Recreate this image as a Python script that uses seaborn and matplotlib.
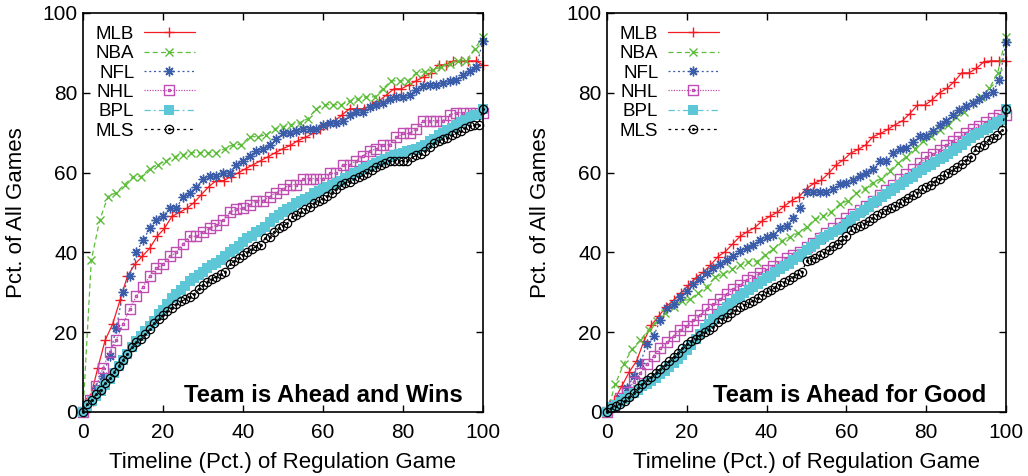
import numpy as np
import pandas as pd
import matplotlib
matplotlib.use("Agg")
import matplotlib.pyplot as plt
import seaborn as sns
from matplotlib.path import Path

# ---------------- data (percent of all games) ----------------
leagues = ["MLB", "NBA", "NFL", "NHL", "BPL", "MLS"]
panel_titles = ["Team is Ahead and Wins", "Team is Ahead for Good"]
x_label = "Timeline (Pct.) of Regulation Game"
y_label = "Pct. of All Games"
tick_values = [0, 20, 40, 60, 80, 100]

# Panel 1: Team is Ahead and Wins
wins_MLB = [0, 3.5, 11, 18, 22, 28, 34, 37, 39, 41, 44, 46, 49, 50, 51, 52.5, 54.5, 56.5, 58, 58,
            59, 60, 61, 62, 63, 64, 65, 66, 66.8, 68, 68.8, 69.8, 71, 72, 73, 74.5, 76, 76, 76, 77,
            78, 79.5, 81, 81, 82, 83, 84, 85, 87, 87, 88, 88, 88, 88, 87]
wins_NBA = [0, 38, 48, 54, 55, 57, 59, 59, 61, 62, 63, 64, 64.5, 65, 65, 65, 65, 66, 67, 67,
            69, 69, 69.5, 71, 71.5, 72, 72.5, 73.5, 76, 77, 77, 77, 78, 78.5, 79, 79, 81, 83, 83, 83,
            85, 85.3, 85.7, 86.5, 87.3, 88, 88, 91, 94]
wins_NFL = [0, 2.5, 6, 9, 14, 21, 30, 34, 40, 43, 46, 48, 49, 51, 51, 54, 55, 56.3, 58.3, 59.2,
            59.2, 60, 60, 62, 63, 64.2, 65.5, 66, 67, 68.5, 70, 70, 70.5, 71, 71, 71, 72, 72.4, 72.4, 73,
            74.5, 75.3, 75.3, 76.5, 77, 77.5, 78.4, 79, 79, 79.5, 80.7, 81.7, 82, 82, 82.5, 83, 83.2,
            84.5, 85.5, 86.5, 93]
wins_NHL = [0, 3, 6.5, 11, 15, 18, 22, 25.7, 29, 31.3, 34, 36, 37, 39, 40, 42, 44, 44, 45.2, 46,
            46.8, 48, 50, 50.8, 51, 52, 53, 53, 54, 55, 55.8, 57, 57, 58.3, 58.5, 58.5, 58.5, 59.8, 59.8, 62,
            62, 63, 64.2, 65.3, 66, 67, 67, 68.8, 69.8, 69.8, 71, 73, 73, 73, 73, 74.4, 75, 75, 75, 75, 75]
wins_BPL = [0, 1.5, 2.8, 4, 5.2, 6.8, 8.3, 9.8, 11.4, 13, 14.6, 16.3, 17.8, 19, 20.2, 21.5, 22.8, 24.5, 25.5, 27,
            28.5, 29.5, 30.5, 31.5, 32.8, 33.5, 34.3, 35, 36, 36.8, 37.3, 38, 39, 40, 40.8, 41.5, 42.5, 43.5, 44.2, 45,
            45.5, 46.3, 47.5, 48.5, 49.3, 50, 50.8, 51.5, 52.3, 53, 53.5, 54, 54.8, 55.4, 56, 56.5, 57, 57.5, 58, 58.6,
            59.2, 59.8, 60.2, 60.8, 61.3, 62, 62.5, 63, 63.5, 64, 64.3, 64.6, 65, 65.3, 65.6, 66, 66.5, 67, 67.8, 68.5,
            69.3, 70, 70.6, 71.3, 72, 72.6, 73.3, 74, 74.4, 74.4, 76]
wins_MLS = [0, 1.9, 3, 4.5, 5.6, 7.2, 8.6, 10, 11.5, 13, 14.5, 16.2, 17.6, 18.4, 19.5, 20.7, 22.2, 23.2, 24.2, 25.2,
            26.1, 27, 27.7, 28.2, 28.9, 29.6, 30.8, 31.9, 32.7, 33.4, 33.9, 34.5, 35, 37.1, 37.8, 38.6, 39.4, 40, 40.8, 41.5,
            41.9, 43.6, 43.9, 45.2, 46.1, 46.6, 47.4, 48.8, 49.3, 50, 50.8, 51.5, 52.3, 52.9, 53.5, 54.2, 55, 56, 56.8, 57.4,
            57.7, 58.3, 58.8, 59.3, 60, 60.6, 61.3, 61.8, 62.5, 63, 63, 63, 63, 63, 63.8, 64.3, 64.7, 65.4, 66.5, 67.4,
            68, 68.3, 68.6, 69.4, 69.8, 70.5, 71.2, 71.8, 72, 72, 76]

# Panel 2: Team is Ahead for Good
good_MLB = [0, 3, 6.5, 10, 12.8, 17.8, 21.8, 24, 26.4, 28, 29.8, 31.8, 33.6, 35, 36.8, 38.9, 40.2, 42.1, 44, 45.2,
            46.2, 47.9, 49, 50, 51.6, 53, 54, 56, 57.3, 58.1, 59.8, 61.9, 63.2, 64.9, 65.8, 66.9, 69, 69.8, 70.8, 72,
            73, 74.8, 76.9, 76.9, 78.2, 80, 81.1, 82.8, 85, 85, 86.1, 87.8, 88, 88, 88]
good_NBA = [0, 7, 12, 15.7, 18, 20.6, 22.9, 24.9, 26.4, 27.9, 28.2, 29.9, 31.4, 33.8, 34.6, 35.8, 36.8, 37.7, 37.7, 39.3,
            40.8, 42.9, 43.8, 44.9, 46.3, 48.3, 49.1, 50.2, 52.1, 53, 54.8, 56, 57.5, 58.5, 60.5, 62.3, 64, 66, 67.8, 69.2,
            70.7, 72, 74, 75.3, 77.5, 79, 81.1, 85, 94]
good_NFL = [0, 1.5, 3.5, 6, 8.9, 12.2, 17, 19, 23, 26, 27, 28.9, 30.2, 32, 33.4, 34.8, 36, 37, 38, 39.1,
            40.4, 41, 41.9, 43, 43.8, 44.4, 46, 46.6, 48.5, 51, 55.2, 55.2, 55.2, 55.2, 55.9, 57.1, 57.4, 58.1, 59.1, 60,
            61, 62.8, 62.8, 64.9, 65.8, 66.1, 67.7, 69.2, 69.2, 70.3, 71.9, 73, 74.4, 75.7, 76.6, 77.5, 78.4, 79.5,
            80.3, 83.2, 92.8]
good_NHL = [0, 1.5, 3.5, 5, 7.6, 9.7, 12, 14, 16, 17.5, 19, 20.5, 21.6, 23, 24.3, 25.8, 27, 28.3, 29.5, 30.8,
            31.8, 33, 33.8, 34.8, 35.6, 36.7, 37.7, 38.6, 39.4, 40.2, 41.4, 42.4, 43.6, 44.8, 46.2, 47.4, 48.5, 49.5,
            50.5, 51.7, 53, 54.5, 55.6, 57, 58.3, 59.6, 60.8, 62.3, 63.8, 64.6, 65.6, 66.8, 67.8, 68.8, 70, 71, 71.6,
            72.6, 73.6, 74.4, 74.4]
good_BPL = [0, 1.2, 1.8, 2.4, 3.2, 4.0, 4.8, 5.6, 6.4, 7.0, 7.8, 8.6, 9.4, 10.2, 11.2, 12.2, 13.2, 14.4, 15.6, 16.8,
            18.2, 19.6, 21, 22, 23.2, 24.4, 25.4, 26.4, 27.4, 28.2, 29, 29.8, 30.6, 31.4, 32.2, 32.8, 33.5, 34.2, 35, 35.8,
            36.6, 37.2, 38, 38.8, 39.5, 40.6, 41.4, 42.2, 43, 43.8, 44.4, 45, 45.6, 46.2, 47, 48, 49, 49.8, 50.6, 51.4,
            52.3, 53, 53.8, 54.6, 55.4, 56.2, 57, 57.6, 58.3, 59, 59.8, 60.6, 61.3, 62, 62.6, 63.3, 64, 64.6, 65.4, 66.2,
            67, 67.8, 68.6, 69.4, 70, 70.6, 71.3, 72, 72.7, 73.2, 76]
good_MLS = [0, 1, 1.6, 2, 2.8, 3.8, 4.8, 5.9, 7, 7.9, 8.8, 9.8, 10.8, 11.7, 12.8, 13.8, 14.8, 16, 17, 17.8,
            18.4, 19.4, 20.1, 20.6, 21.3, 22.5, 23.2, 23.9, 24.8, 25.6, 26.2, 26.7, 27.3, 27.9, 28.6, 29.2, 30, 30.6, 31.2, 31.9,
            32.6, 33.2, 33.9, 34.6, 35.1, 37.9, 38.2, 38.7, 39.3, 39.9, 40.6, 41.5, 42.2, 43, 44.2, 45.6, 46, 46.6, 47.2, 47.8,
            48.7, 49.3, 49.9, 50.6, 51.1, 51.6, 52.4, 53, 53.7, 54.4, 55, 55.8, 56.5, 57, 57.8, 58.5, 59.3, 60, 60.6, 61.4,
            62.2, 63.2, 64, 65.6, 66.3, 67, 68.1, 68.6, 69.4, 70.6, 76]

panels = [
    {"MLB": wins_MLB, "NBA": wins_NBA, "NFL": wins_NFL, "NHL": wins_NHL, "BPL": wins_BPL, "MLS": wins_MLS},
    {"MLB": good_MLB, "NBA": good_NBA, "NFL": good_NFL, "NHL": good_NHL, "BPL": good_BPL, "MLS": good_MLS},
]

# ---------------- styles ----------------
sq = [(-1, -1), (1, -1), (1, 1), (-1, 1), (-1, -1)]
codes = [Path.MOVETO, Path.LINETO, Path.LINETO, Path.LINETO, Path.CLOSEPOLY]
square_dot = Path.make_compound_path(Path(sq, codes), Path([(a * 0.16, b * 0.16) for a, b in sq], codes))
circle_dot = Path.make_compound_path(Path.circle((0, 0), 1.0), Path.circle((0, 0), 0.2))

styles = {
    "MLB": dict(color="#f21c24", marker="+", ms=7, mew=1.0, ls="-", mfc="none"),
    "NBA": dict(color="#5cbd3a", marker="x", ms=6, mew=1.0, ls=(0, (4, 2.6)), mfc="none"),
    "NFL": dict(color="#3b5ca8", marker=(8, 2, 0), ms=7, mew=1.0, ls=(0, (1.6, 2.2)), mfc="none"),
    "NHL": dict(color="#c04db2", marker=square_dot, ms=6.5, mew=1.0, ls=(0, (1, 1.1)), mfc="none"),
    "BPL": dict(color="#5ec7d7", marker="s", ms=6.8, mew=0, ls=(0, (5, 2.5, 1.5, 2.5)), mfc="#5ec7d7"),
    "MLS": dict(color="#000000", marker=circle_dot, ms=6, mew=0.9, ls=(0, (2.2, 3.0)), mfc="none"),
}

# ---------------- plotting ----------------
sns.set_style("ticks", rc={"axes.edgecolor": "black", "text.color": "black",
                           "axes.labelcolor": "black", "xtick.color": "black",
                           "ytick.color": "black"})
plt.rcParams["font.family"] = ["Liberation Sans", "DejaVu Sans"]

fig = plt.figure(figsize=(10.28, 4.76), dpi=100)
ax_rects = [[0.0807, 0.1345, 0.3891, 0.8382], [0.5905, 0.1345, 0.3881, 0.8382]]

for p, (rect, data, title) in enumerate(zip(ax_rects, panels, panel_titles)):
    ax = fig.add_axes(rect)
    handles = []
    for lg in leagues:
        vals = np.asarray(data[lg], dtype=float)
        df = pd.DataFrame({"x": np.linspace(0, 100, len(vals)), "y": vals})
        st = styles[lg]
        sns.lineplot(data=df, x="x", y="y", ax=ax, estimator=None, sort=False,
                     color=st["color"], linestyle=st["ls"], linewidth=0.9,
                     marker=st["marker"], markersize=st["ms"], markeredgewidth=st["mew"],
                     markeredgecolor=st["color"], markerfacecolor=st["mfc"], clip_on=False)
        handles.append(ax.get_lines()[-1])

    ax.set_xlim(0, 100)
    ax.set_ylim(0, 100)
    ax.set_xticks(tick_values)
    ax.set_yticks(tick_values)
    ax.tick_params(direction="in", top=True, right=True, length=5, width=1.0,
                   labelsize=15, colors="black", labelcolor="black")
    ax.tick_params(axis="x", pad=8)
    ax.tick_params(axis="y", pad=4)
    for s in ax.spines.values():
        s.set_linewidth(1.2)
        s.set_color("black")
        s.set_visible(True)
    ax.set_xlabel(x_label, fontsize=16, labelpad=7, color="black")
    ax.set_ylabel(y_label, fontsize=16, labelpad=11, color="black")
    ax.text(95, 2.5, title, ha="right", va="baseline", fontsize=17.2,
            fontweight="bold", color="black")
    leg = ax.legend(handles, leagues, loc="upper left", bbox_to_anchor=(0.032, 0.968),
                    frameon=False, markerfirst=False, handlelength=2.75, handletextpad=0.5,
                    labelspacing=0.12, borderaxespad=0, borderpad=0, fontsize=13.5, numpoints=1)
    for t in leg.get_texts():
        t.set_color("black")

fig.savefig("out.png", dpi=100)
